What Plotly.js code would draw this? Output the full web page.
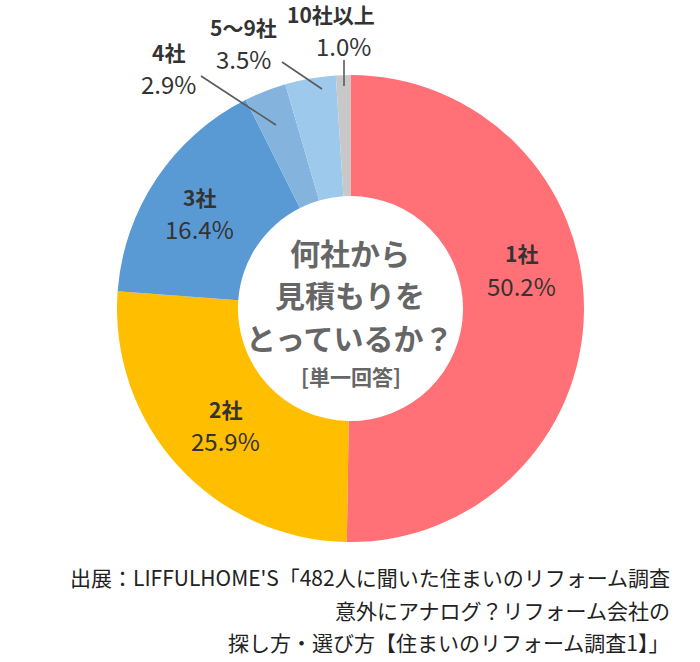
<!DOCTYPE html>
<html>
<head>
<meta charset="utf-8">
<script src="https://cdn.plot.ly/plotly-3.0.1.min.js"></script>
<style>html,body{margin:0;padding:0;background:#fff;}#chart{width:700px;height:662px;}</style>
</head>
<body>
<div id="chart"></div>
<script>
var categories = ["1社", "2社", "3社", "4社", "5〜9社", "10社以上"];
var values = [50.2, 25.9, 16.4, 2.9, 3.5, 1.0];
var valueLabels = ["50.2%", "25.9%", "16.4%", "2.9%", "3.5%", "1.0%"];
var colors = ["#FF7176", "#FFBE00", "#5A9AD4", "#84B4DE", "#9CC9EC", "#C8C8C8"];
var centerLines = ["何社から", "見積もりを", "とっているか？"];
var centerNote = "[単一回答]";
var sourceLines = ["出展：LIFFULHOME'S「482人に聞いた住まいのリフォーム調査", "意外にアナログ？リフォーム会社の", "探し方・選び方【住まいのリフォーム調査1】」"];

var W = 700, H = 662;
function px(x){return x / W;}
function py(y){return 1 - y / H;}
var FONT = "Noto Sans CJK JP, Noto Sans, sans-serif";

var trace = {
  type: "pie",
  labels: categories,
  values: values,
  sort: false,
  direction: "clockwise",
  rotation: 0,
  hole: 0.482,
  textinfo: "none",
  hoverinfo: "label+percent",
  marker: {colors: colors, line: {width: 0}},
  domain: {x: [px(117), px(584)], y: [py(542), py(75)]},
  showlegend: false
};

// label positions (pixels): name center x, name center y, value center y
var labelPos = [
  [521, 253, 285],
  [225, 409, 440],
  [199, 197, 228],
  [168, 52, 83],
  [243, 27, 58],
  [331, 14, 45]
];
var annotations = [];
for (var i = 0; i < categories.length; i++) {
  var p = labelPos[i];
  annotations.push({xref: "paper", yref: "paper", x: px(p[0]), y: py(p[1]), xanchor: "center", yanchor: "middle",
    text: "<b>" + categories[i] + "</b>", showarrow: false, font: {family: FONT, size: 21, color: "#333333"}});
  annotations.push({xref: "paper", yref: "paper", x: px(i === 5 ? 343 : p[0]), y: py(p[2]), xanchor: "center", yanchor: "middle",
    text: valueLabels[i], showarrow: false, font: {family: FONT, size: 24, color: "#333333"}});
}
var centerY = [252, 294, 337];
for (var j = 0; j < centerLines.length; j++) {
  annotations.push({xref: "paper", yref: "paper", x: px(350), y: py(centerY[j]), xanchor: "center", yanchor: "middle",
    text: "<b>" + centerLines[j] + "</b>", showarrow: false, font: {family: FONT, size: 30, color: "#666666"}});
}
annotations.push({xref: "paper", yref: "paper", x: px(351), y: py(376), xanchor: "center", yanchor: "middle",
  text: "<b>" + centerNote + "</b>", showarrow: false, font: {family: FONT, size: 21, color: "#666666"}});
var srcY = [577, 610, 642];
for (var k = 0; k < sourceLines.length; k++) {
  annotations.push({xref: "paper", yref: "paper", x: px(672), y: py(srcY[k]), xanchor: "right", yanchor: "middle",
    text: sourceLines[k], showarrow: false, font: {family: FONT, size: 21, color: "#222222"}});
}

var lineStyle = {color: "#5A5A5A", width: 1.6};
var shapes = [
  {type: "line", xref: "paper", yref: "paper", x0: px(201), y0: py(76), x1: px(276), y1: py(125), line: lineStyle},
  {type: "line", xref: "paper", yref: "paper", x0: px(282), y0: py(62), x1: px(322), y1: py(89), line: lineStyle},
  {type: "line", xref: "paper", yref: "paper", x0: px(344), y0: py(60), x1: px(344), y1: py(86), line: lineStyle}
];

var layout = {
  width: W, height: H,
  margin: {l: 0, r: 0, t: 0, b: 0},
  paper_bgcolor: "#ffffff",
  plot_bgcolor: "#ffffff",
  annotations: annotations,
  shapes: shapes,
  font: {family: FONT}
};
Plotly.newPlot("chart", [trace], layout, {displayModeBar: false, staticPlot: true});
</script>
</body>
</html>
